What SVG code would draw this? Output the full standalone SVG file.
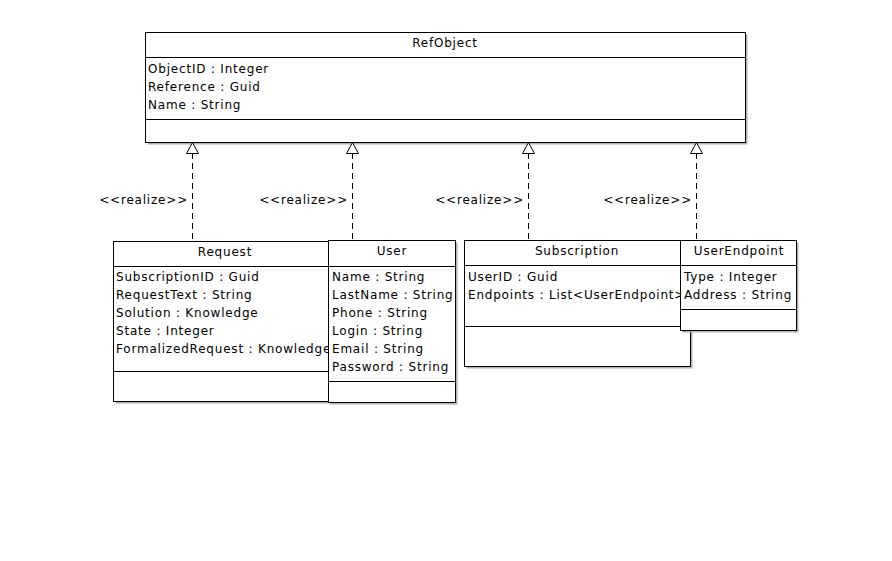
<svg xmlns="http://www.w3.org/2000/svg" width="892" height="561" viewBox="0 0 892 561">
<style>
.box{fill:#fff;stroke:#000;stroke-width:1}
.sh{fill:#b0b0b0}
.ln{stroke:#000;stroke-width:1}
text{font-family:"DejaVu Sans",sans-serif;font-size:12px;fill:#000;letter-spacing:0.8px}
.c{text-anchor:middle}
.dash{stroke:#000;stroke-width:1;stroke-dasharray:6,4;fill:none}
.tri{fill:#fff;stroke:#000;stroke-width:1}
</style>
<defs>
<clipPath id="cReq"><rect x="113" y="241" width="215" height="160"/></clipPath>
<clipPath id="cSub"><rect x="465" y="241" width="216" height="126"/></clipPath>
</defs>
<rect width="892" height="561" fill="#fff"/>
<g id="RefObject">
<rect class="sh" x="147.5" y="34.5" width="600" height="110"/>
<rect class="box" x="145.5" y="32.5" width="600" height="110"/>
<line class="ln" x1="145.5" y1="57.5" x2="745.5" y2="57.5"/>
<line class="ln" x1="145.5" y1="119.5" x2="745.5" y2="119.5"/>
<text class="c" x="445" y="47">RefObject</text>
<text x="148" y="73">ObjectID : Integer</text>
<text x="148" y="91">Reference : Guid</text>
<text x="148" y="109">Name : String</text>
</g>
<g id="Request">
<rect class="sh" x="115.5" y="243.5" width="220" height="160"/>
<rect class="box" x="113.5" y="241.5" width="220" height="160"/>
<line class="ln" x1="113.5" y1="266.5" x2="333.5" y2="266.5"/>
<line class="ln" x1="113.5" y1="371.5" x2="333.5" y2="371.5"/>
<text class="c" x="225" y="256">Request</text>
<g clip-path="url(#cReq)">
<text x="116" y="281">SubscriptionID : Guid</text>
<text x="116" y="299">RequestText : String</text>
<text x="116" y="317">Solution : Knowledge</text>
<text x="116" y="335">State : Integer</text>
<text x="116" y="353">FormalizedRequest : Knowledge</text>
</g>
</g>
<g id="User">
<rect class="sh" x="330.5" y="242.5" width="127" height="162"/>
<rect class="box" x="328.5" y="240.5" width="127" height="162"/>
<line class="ln" x1="328.5" y1="266.5" x2="455.5" y2="266.5"/>
<line class="ln" x1="328.5" y1="381.5" x2="455.5" y2="381.5"/>
<text class="c" x="392" y="255">User</text>
<text x="332" y="281">Name : String</text>
<text x="332" y="299">LastName : String</text>
<text x="332" y="317">Phone : String</text>
<text x="332" y="335">Login : String</text>
<text x="332" y="353">Email : String</text>
<text x="332" y="371">Password : String</text>
</g>
<g id="Subscription">
<rect class="sh" x="466.5" y="242.5" width="226" height="126"/>
<rect class="box" x="464.5" y="240.5" width="226" height="126"/>
<line class="ln" x1="464.5" y1="265.5" x2="690.5" y2="265.5"/>
<line class="ln" x1="464.5" y1="326.5" x2="690.5" y2="326.5"/>
<text class="c" x="577" y="255">Subscription</text>
<g clip-path="url(#cSub)">
<text x="468" y="281">UserID : Guid</text>
<text x="468" y="299">Endpoints : List&lt;UserEndpoint&gt;</text>
</g>
</g>
<g id="UserEndpoint">
<rect class="sh" x="682.5" y="242.5" width="116" height="90"/>
<rect class="box" x="680.5" y="240.5" width="116" height="90"/>
<line class="ln" x1="680.5" y1="265.5" x2="796.5" y2="265.5"/>
<line class="ln" x1="680.5" y1="309.5" x2="796.5" y2="309.5"/>
<text class="c" x="739" y="255">UserEndpoint</text>
<text x="684" y="281">Type : Integer</text>
<text x="684" y="299">Address : String</text>
</g>
<g id="connectors">
<line class="dash" x1="192.5" y1="153" x2="192.5" y2="241"/>
<polygon class="tri" points="192.5,142.5 186.5,153.5 198.5,153.5"/>
<text x="188" y="204" text-anchor="end">&lt;&lt;realize&gt;&gt;</text>
<line class="dash" x1="352.5" y1="153" x2="352.5" y2="240"/>
<polygon class="tri" points="352.5,142.5 346.5,153.5 358.5,153.5"/>
<text x="348" y="204" text-anchor="end">&lt;&lt;realize&gt;&gt;</text>
<line class="dash" x1="528.5" y1="153" x2="528.5" y2="240"/>
<polygon class="tri" points="528.5,142.5 522.5,153.5 534.5,153.5"/>
<text x="524" y="204" text-anchor="end">&lt;&lt;realize&gt;&gt;</text>
<line class="dash" x1="696.5" y1="153" x2="696.5" y2="240"/>
<polygon class="tri" points="696.5,142.5 690.5,153.5 702.5,153.5"/>
<text x="692" y="204" text-anchor="end">&lt;&lt;realize&gt;&gt;</text>
</g>
</svg>
